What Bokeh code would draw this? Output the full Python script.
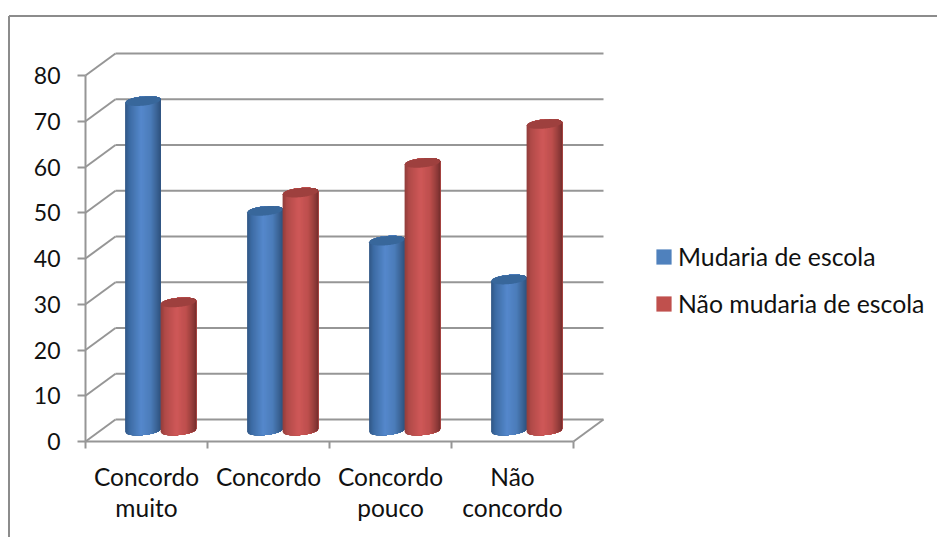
import numpy as np
from bokeh.embed import file_html
from bokeh.resources import INLINE
from bokeh.plotting import figure
from bokeh.models import (ColumnDataSource, FixedTicker, Legend,
                          LegendItem, LinearAxis, Range1d)

# Survey results
categories = ["Concordo\nmuito", "Concordo", "Concordo\npouco", "Não\nconcordo"]
series_names = ["Mudaria de escola", "Não mudaria de escola"]
mudaria = [72, 48, 41.5, 33]
nao_mudaria = [28, 52, 58.5, 67]
y_ticks = [0, 10, 20, 30, 40, 50, 60, 70, 80]

FONT = "Lato"
INK = "#111111"
GRID = "#969696"
BLUE = "#4F81BD"
RED = "#C0504D"

# Page size and scales: one category is 122 px wide, one value unit is 4.575 px tall
W, H = 937, 537
PX_X = 122.0
PX_Y = 4.575
ORIGIN_X = 85
ORIGIN_Y = 441

# Oblique depth of the pseudo-3D box, in data units
DEPTH_X = 30 / PX_X
DEPTH_Y = 22 / PX_Y

# Cylinder shape
CYL_W = 35.5 / PX_X
CYL_RY = 4.6 / PX_Y
CYL_TILT = 1.6 / PX_Y
BASE_Y = DEPTH_Y / 2
CENTER_SHIFT = DEPTH_X * 0.47
STRIPS = 36

# Shade profile across a cylinder: (position 0..1, colour)
BLUE_SHADES = [(0, "#2F5585"), (0.12, "#3C6BA3"), (0.45, "#5588CC"), (0.72, "#4C7CB9"), (0.92, "#375F8F"), (1, "#2F527D")]
RED_SHADES = [(0, "#8F3C3A"), (0.12, "#B04A48"), (0.45, "#CF5858"), (0.72, "#BD4F4D"), (0.92, "#8E3A38"), (1, "#752E2D")]
BLUE_TOP = "#38679B"
RED_TOP = "#9E403E"


def shade(profile, t):
    pos = [a for a, _ in profile]
    rgb = np.array([[int(c[i:i + 2], 16) for i in (1, 3, 5)] for _, c in profile])
    r = [int(round(np.interp(t, pos, rgb[:, k]))) for k in range(3)]
    return "#%02x%02x%02x" % tuple(r)


def ellipse_y(cy, u, sign):
    """Edge of a tilted ellipse; u runs -1..1 across it, sign +1 upper and -1 lower."""
    return cy + sign * CYL_RY * np.sqrt(np.clip(1 - u * u, 0, 1)) + CYL_TILT * u


x_start = -ORIGIN_X / PX_X
x_end = (W - ORIGIN_X) / PX_X
y_start = -(H - ORIGIN_Y) / PX_Y
y_end = ORIGIN_Y / PX_Y

p = figure(width=W, height=H, output_backend="svg", toolbar_location=None,
           x_range=Range1d(x_start, x_end), y_range=Range1d(y_start, y_end),
           min_border=0, x_axis_location=None, y_axis_location=None)
p.outline_line_color = None
p.grid.visible = False
p.background_fill_color = "white"
p.border_fill_color = "white"

n = len(categories)

# Axes along the front edge of the box
y_axis = LinearAxis(fixed_location=0, ticker=FixedTicker(ticks=y_ticks), bounds=(0, 80),
                    axis_line_color=GRID, axis_line_width=2,
                    major_tick_line_color=GRID, major_tick_line_width=2,
                    major_tick_out=8, major_tick_in=0,
                    minor_tick_line_color=None,
                    major_label_text_font=FONT, major_label_text_font_size="23px",
                    major_label_text_color=INK, major_label_standoff=17)
p.add_layout(y_axis, "left")

x_centers = [i + 0.5 for i in range(n)]
x_axis = LinearAxis(fixed_location=0,
                    ticker=FixedTicker(ticks=x_centers, minor_ticks=list(range(n + 1))),
                    major_label_overrides=dict(zip(x_centers, categories)),
                    bounds=(0, n),
                    axis_line_color=GRID, axis_line_width=2,
                    major_tick_line_color=None, major_tick_out=0, major_tick_in=0,
                    minor_tick_line_color=GRID, minor_tick_line_width=2,
                    minor_tick_out=7, minor_tick_in=0,
                    major_label_text_font=FONT, major_label_text_font_size="24.5px",
                    major_label_text_line_height=1.1,
                    major_label_text_color=INK, major_label_standoff=13,
                    major_label_orientation="horizontal")
p.add_layout(x_axis, "below")

# Back wall, side wall and floor lines
p.segment(x0=[DEPTH_X] * len(y_ticks), y0=[v + DEPTH_Y for v in y_ticks],
          x1=[n + DEPTH_X] * len(y_ticks), y1=[v + DEPTH_Y for v in y_ticks],
          line_color=GRID, line_width=2)
p.segment(x0=[0] * len(y_ticks), y0=y_ticks,
          x1=[DEPTH_X] * len(y_ticks), y1=[v + DEPTH_Y for v in y_ticks],
          line_color=GRID, line_width=2)
p.segment(x0=[n], y0=[0], x1=[n + DEPTH_X], y1=[DEPTH_Y], line_color=GRID, line_width=2)

# Chart-area border, open past the right and bottom of the page
border_x = x_start + 8.5 / PX_X
border_y = y_end - 15.5 / PX_Y
p.line(x=[border_x, border_x], y=[y_start, border_y], line_color="#8c8c8c", line_width=2)
p.line(x=[border_x, x_end], y=[border_y, border_y], line_color="#8c8c8c", line_width=2)


def cylinder(cx, value, profile, top_color):
    edges = np.linspace(-1, 1, STRIPS + 1)
    xs, ys, colors = [], [], []
    for i in range(STRIPS):
        # Each strip runs to the far right edge so neighbours leave no seam
        us = np.linspace(edges[i], 1, 24 if i < STRIPS - 1 else 2)
        x_line = cx + us * CYL_W / 2
        low = ellipse_y(BASE_Y, us, -1)
        high = ellipse_y(BASE_Y + value, us, 1)
        xs.append(np.concatenate([x_line, x_line[::-1]]).tolist())
        ys.append(np.concatenate([low, high[::-1]]).tolist())
        colors.append(shade(profile, (i + 0.5) / STRIPS))
    p.patches(xs=xs, ys=ys, fill_color=colors, line_color=None)
    # Darker cap on top of the column
    us = np.linspace(-1, 1, 40)
    x_cap = cx + us * CYL_W / 2
    cap_x = np.concatenate([x_cap, x_cap[::-1]]).tolist()
    cap_y = np.concatenate([ellipse_y(BASE_Y + value, us, -1),
                            ellipse_y(BASE_Y + value, us[::-1], 1)]).tolist()
    p.patch(x=cap_x, y=cap_y, fill_color=top_color, line_color=None)


for i in range(n):
    mid = x_centers[i] + CENTER_SHIFT
    cylinder(mid - CYL_W / 2, mudaria[i], BLUE_SHADES, BLUE_TOP)
    cylinder(mid + CYL_W / 2, nao_mudaria[i], RED_SHADES, RED_TOP)

# Legend swatches come from zero-width bar renderers that leave no mark in the plot
key_source = ColumnDataSource(data=dict(x=[0], top=[0]))
blue_key = p.vbar(x="x", top="top", width=0, source=key_source, fill_color=BLUE, line_color=None)
red_key = p.vbar(x="x", top="top", width=0, source=key_source, fill_color=RED, line_color=None)
legend = Legend(items=[LegendItem(label=series_names[0], renderers=[blue_key]),
                       LegendItem(label=series_names[1], renderers=[red_key])],
                location=(654, 219), orientation="vertical",
                glyph_width=19, glyph_height=19, label_standoff=5, spacing=18,
                padding=0, margin=0, background_fill_alpha=0, border_line_color=None,
                label_text_font=FONT, label_text_font_size="24.8px", label_text_color=INK)
p.add_layout(legend, "center")

open("out.html", "w").write(file_html(p, INLINE))
